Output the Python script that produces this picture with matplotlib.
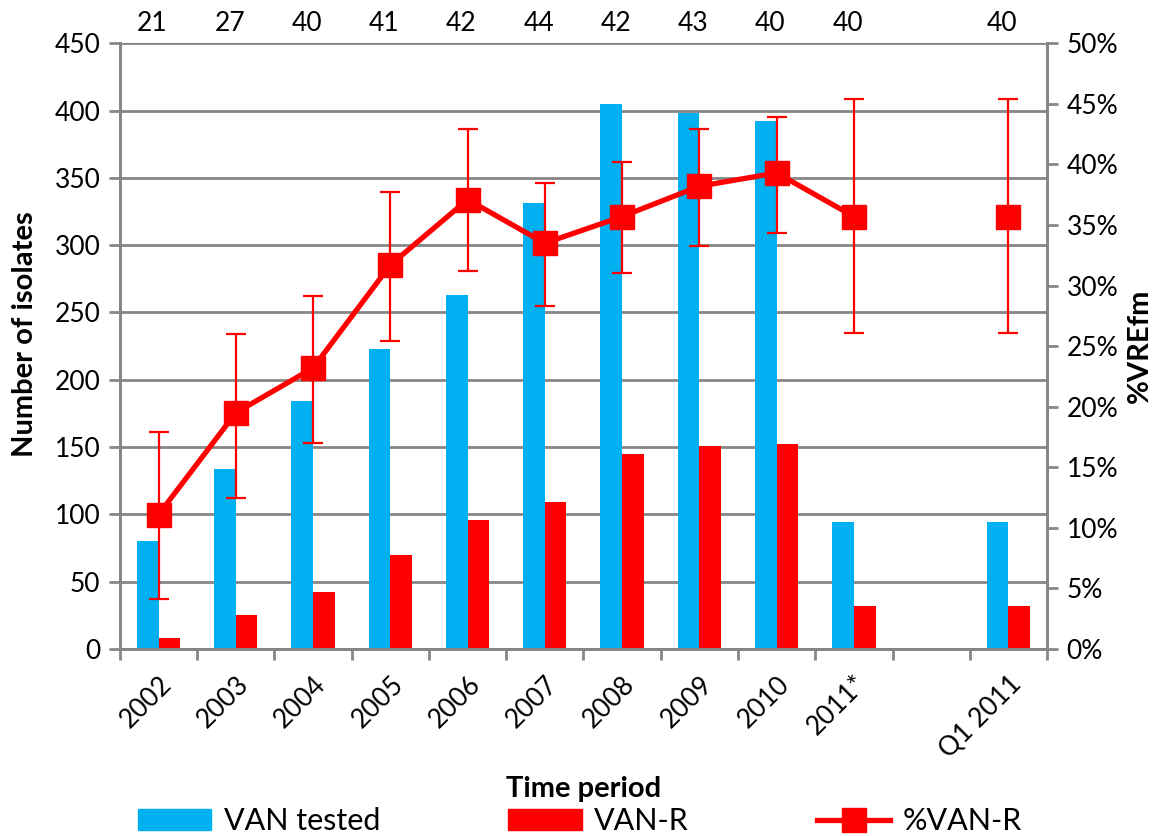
import matplotlib.pyplot as plt
import numpy as np
from matplotlib.lines import Line2D
from matplotlib.patches import Patch
from matplotlib.ticker import FuncFormatter

plt.rcParams["font.family"] = ["Lato", "DejaVu Sans"]

categories = ["2002", "2003", "2004", "2005", "2006", "2007", "2008", "2009", "2010", "2011*", "", "Q1 2011"]
van_tested = [80, 134, 184, 223, 263, 331, 405, 398, 392, 94, np.nan, 94]
van_r = [8, 25, 42, 70, 96, 109, 145, 151, 152, 32, np.nan, 32]
pct_van_r = [11.1, 19.5, 23.2, 31.7, 37.1, 33.5, 35.7, 38.2, 39.3, 35.7, np.nan, 35.7]
ci_low = [4.1, 12.5, 17.0, 25.4, 31.2, 28.3, 31.0, 33.3, 34.3, 26.1, np.nan, 26.1]
ci_high = [17.9, 26.0, 29.1, 37.7, 42.9, 38.5, 40.2, 42.9, 43.9, 45.4, np.nan, 45.4]
lab_counts = ["21", "27", "40", "41", "42", "44", "42", "43", "40", "40", "", "40"]

BLUE = "#00B0F0"
RED = "#FF0000"
GREY = "#868686"

x = np.arange(len(categories))
bw = 0.28

fig = plt.figure(figsize=(11.6, 8.36), dpi=100)
ax = fig.add_axes([0.1034, 0.2237, 0.7992, 0.7245])
ax2 = ax.twinx()

ax.bar(x - bw / 2, van_tested, width=bw, color=BLUE, zorder=2)
ax.bar(x + bw / 2, van_r, width=bw, color=RED, zorder=2)

pct = np.array(pct_van_r)
yerr = [pct - np.array(ci_low), np.array(ci_high) - pct]
ax2.errorbar(x, pct, yerr=yerr, fmt="none", ecolor=RED, elinewidth=1.6,
             capsize=7, capthick=1.6, zorder=3)
ax2.plot(x, pct, color=RED, lw=3.8, marker="s", markersize=17, zorder=4)

ax.set_xlim(-0.5, len(categories) - 0.5)
ax.set_ylim(0, 450)
ax.set_yticks(np.arange(0, 451, 50))
ax2.set_ylim(0, 50)
ax2.set_yticks(np.arange(0, 51, 5))
ax2.yaxis.set_major_formatter(FuncFormatter(lambda v, _: f"{v:.0f}%"))

ax.yaxis.grid(True, color=GREY, lw=2, zorder=0)
ax.set_axisbelow(True)

for a in (ax, ax2):
    for s in a.spines.values():
        s.set_color(GREY)
        s.set_linewidth(2)
ax.spines["top"].set_visible(False)
ax2.spines["top"].set_visible(False)

ax.set_xticks(np.arange(-0.5, len(categories), 1.0))
ax.set_xticklabels([])
ax.set_xticks(x, minor=True)
ax.set_xticklabels(categories, minor=True, rotation=45, ha="right",
                   rotation_mode="anchor", fontsize=19)
ax.tick_params(axis="x", which="major", length=8, width=2, color=GREY, direction="out")
ax.tick_params(axis="x", which="minor", length=0, pad=16)
ax.tick_params(axis="y", length=8, width=2, color=GREY, labelsize=19, pad=6)
ax2.tick_params(axis="y", length=8, width=2, color=GREY, labelsize=19, pad=6)

for xi, t in zip(x, lab_counts):
    ax.text(xi - 0.08, 1.012, t, transform=ax.get_xaxis_transform(),
            ha="center", va="bottom", fontsize=19)

ax.set_ylabel("Number of isolates", fontsize=21, fontweight="bold")
ax.yaxis.set_label_coords(-0.088, 0.52)
ax2.set_ylabel("%VREfm", fontsize=21, fontweight="bold", labelpad=6)
ax.set_xlabel("Time period", fontsize=21, fontweight="bold", labelpad=10)

handles = [
    Patch(color=BLUE),
    Patch(color=RED),
    Line2D([0], [0], color=RED, lw=3.8, marker="s", markersize=17),
]
fig.legend(handles, ["VAN tested", "VAN-R", "%VAN-R"], loc="lower center",
           bbox_to_anchor=(0.5, -0.032), ncol=3, frameon=False, fontsize=22,
           columnspacing=4.2, handlelength=2.4, handleheight=0.7, handletextpad=0.4)

fig.savefig("out.png", dpi=100)
